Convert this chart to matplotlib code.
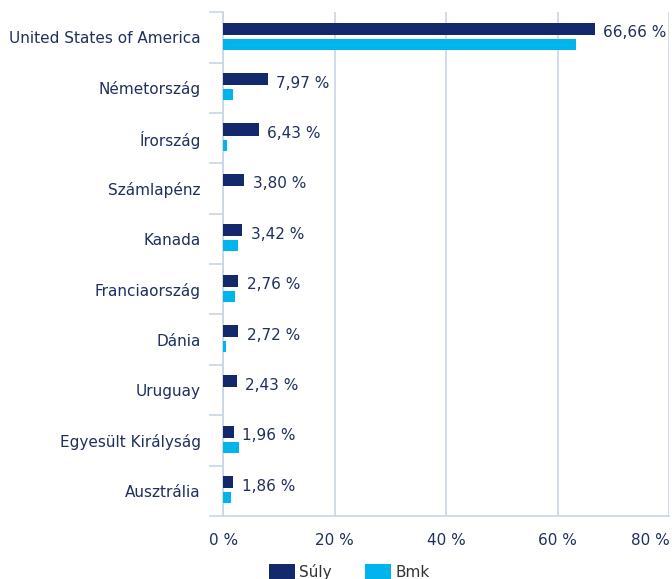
import numpy as np
import matplotlib.pyplot as plt
from matplotlib.ticker import FixedLocator

countries = ["United States of America", "Németország", "Írország", "Számlapénz",
             "Kanada", "Franciaország", "Dánia", "Uruguay",
             "Egyesült Királyság", "Ausztrália"]
suly = [66.66, 7.97, 6.43, 3.80, 3.42, 2.76, 2.72, 2.43, 1.96, 1.86]
bmk = [63.3, 1.8, 0.7, 0.0, 2.7, 2.1, 0.5, 0.0, 2.9, 1.4]

navy = "#13296b"
cyan = "#00b5ec"
grid_c = "#c9d4e4"
text_c = "#1f2f5e"

plt.rcParams["font.family"] = ["DejaVu Sans"]

fig = plt.figure(figsize=(6.72, 5.79), dpi=100)
ax = fig.add_axes([0.332, 0.109, 0.664, 0.870])

y = np.arange(len(countries))
ax.barh(y - 0.17, suly, height=0.24, color=navy, label="Súly", zorder=3)
ax.barh(y + 0.14, bmk, height=0.22, color=cyan, label="Bmk", zorder=3)

for yi, v in zip(y, suly):
    ax.annotate(f"{v:.2f} %".replace(".", ","), (v, yi - 0.09), xytext=(6, 0),
                textcoords="offset points", va="center", ha="left",
                fontsize=11, color=text_c)

ax.set_xlim(0, 80)
ax.set_ylim(len(countries) - 0.5, -0.5)
ax.set_xticks([0, 20, 40, 60, 80])
ax.set_xticklabels(["0 %", "20 %", "40 %", "60 %", "80 %"])
ax.get_xticklabels()[-1].set_horizontalalignment("right")
ax.set_yticks(y)
ax.set_yticklabels(countries)
ax.yaxis.set_minor_locator(FixedLocator(np.arange(-0.5, len(countries), 1.0)))

ax.tick_params(axis="y", which="major", length=0, pad=16, labelsize=11, labelcolor=text_c)
ax.tick_params(axis="y", which="minor", length=10, width=1.2, color=grid_c, direction="out")
ax.tick_params(axis="x", length=0, pad=12, labelsize=11, labelcolor=text_c)

ax.grid(axis="x", color=grid_c, linewidth=1.2, zorder=0)
for s in ["top", "right"]:
    ax.spines[s].set_visible(False)
for s in ["left", "bottom"]:
    ax.spines[s].set_color(grid_c)
    ax.spines[s].set_linewidth(1.2)

leg = fig.legend(loc="lower center", bbox_to_anchor=(0.52, -0.025), ncol=2, frameon=False,
                 fontsize=11, handlelength=1.7, handleheight=1.1, columnspacing=2.2,
                 handletextpad=0.3)
for t in leg.get_texts():
    t.set_color("#333333")

fig.savefig("out.png", dpi=100)
plt.close()
